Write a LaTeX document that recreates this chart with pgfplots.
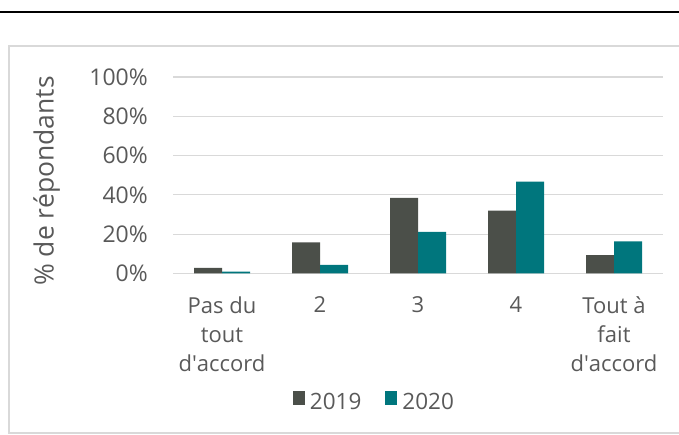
\documentclass[border=0pt]{standalone}
\usepackage{fontspec}
\setmainfont{Open Sans}
\usepackage{pgfplots}
\pgfplotsset{compat=1.18}
\definecolor{c2019}{HTML}{4B4F49}
\definecolor{c2020}{HTML}{00767D}
\definecolor{txt}{HTML}{595959}
\definecolor{gridc}{HTML}{D9D9D9}
\begin{document}
\begin{tikzpicture}[x=1pt,y=1pt]
\path[use as bounding box] (0,0) rectangle (679,435);
\draw[line width=2.5pt] (0,423) -- (679,423);
\draw[gridc, line width=1.2pt] (9,2) rectangle (700,389);
\node[rotate=90, anchor=base, text=txt, font=\fontsize{26.5}{30}\selectfont, inner sep=0pt] at (53.5,254) {\% de répondants};
\begin{axis}[
  at={(173pt,161.5pt)}, anchor=south west,
  scale only axis, width=490pt, height=196.5pt,
  ymin=0, ymax=100, xmin=-0.5, xmax=4.5,
  ytick={0,20,...,100},
  yticklabel={\pgfmathprintnumber{\tick}\%},
  /pgf/number format/assume math mode=true,
  xtick={0,...,4},
  xticklabels={{Pas du\\tout\\d\textquotesingle accord},2,3,4,{Tout à\\fait\\d\textquotesingle accord}},
  ymajorgrids, grid style={gridc, line width=1.2pt},
  axis line style={draw=none},
  major tick length=0pt,
  ybar, bar width=28pt,
  tick label style={font=\fontsize{22}{29}\selectfont, text=txt},
  yticklabel style={anchor=east, inner sep=0pt, xshift=-25pt, font=\fontsize{23}{29}\selectfont},
  xticklabel style={align=center, anchor=north, inner sep=0pt, yshift=-22.8pt},
  legend style={at={(0.411,-0.654)}, anchor=center, draw=none, fill=none, legend columns=2,
    font=\fontsize{22.5}{29}\selectfont, text=txt,
    /tikz/every odd column/.append style={column sep=3pt},
    /tikz/every even column/.append style={column sep=22pt}},
  legend image code/.code={\fill[#1] (0pt,-3pt) rectangle (12pt,11pt);},
]
\addplot[fill=c2019, draw=none, bar shift=-14pt] coordinates {(0,2.9) (1,15.9) (2,38.5) (3,32.0) (4,9.3)};
\addplot[fill=c2020, draw=none, bar shift=14pt] coordinates {(0,1.0) (1,4.4) (2,21.2) (3,46.8) (4,16.3)};
\legend{2019,2020}
\end{axis}
\end{tikzpicture}
\end{document}
